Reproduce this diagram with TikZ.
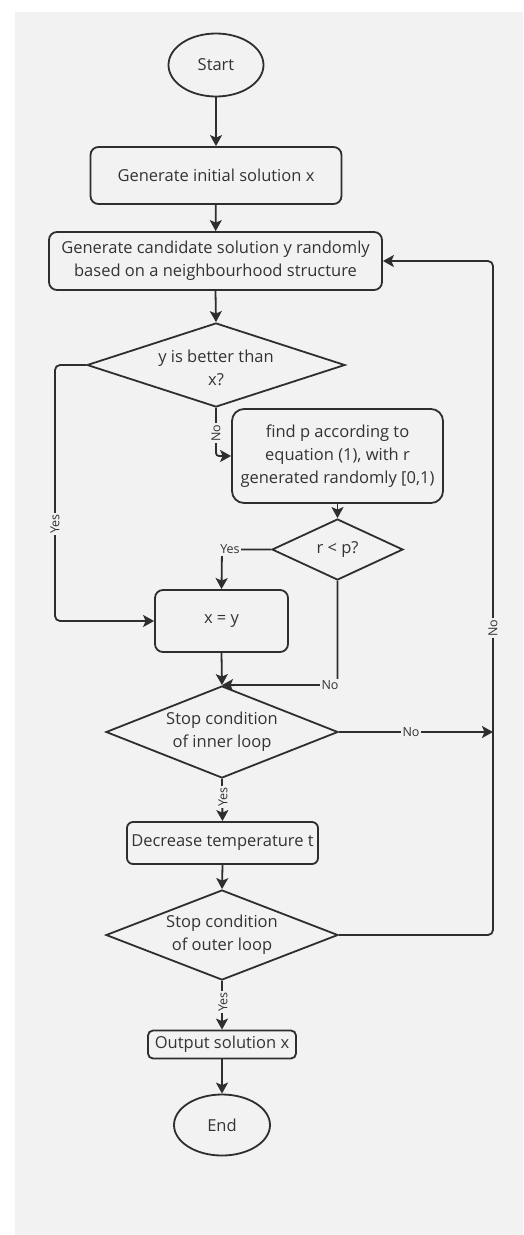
\documentclass[tikz,border=0pt]{standalone}
\usepackage{fontspec}
\setmainfont{Open Sans}
\usetikzlibrary{shapes.geometric,arrows.meta}
\definecolor{bg}{HTML}{F2F2F2}
\definecolor{ink}{HTML}{2E2E2E}
\definecolor{txt}{HTML}{333333}
\tikzset{
  base/.style={draw=ink, line width=1.8pt, text=txt, align=center, inner sep=0pt,
    font=\fontsize{16.5}{23}\selectfont},
  proc/.style={base, rectangle, rounded corners=8pt},
  term/.style={base, ellipse},
  dec/.style={base, diamond},
  dtext/.style={text=txt, align=center, font=\fontsize{16.5}{23}\selectfont},
  flow/.style={draw=ink, line width=1.8pt, -{Stealth[length=11pt,width=12pt,inset=2.5pt]}},
  lbl/.style={text=txt, fill=bg, inner sep=1.5pt, font=\fontsize{12.5}{14}\selectfont},
}
\begin{document}
\begin{tikzpicture}[x=1pt,y=-1pt]
\useasboundingbox (0,0) rectangle (523,1235);
\fill[bg] (15,12) rectangle (523,1235);

\node[term, minimum width=95pt, minimum height=63pt] (start) at (216,65) {Start};
\node[proc, minimum width=251pt, minimum height=57pt] (init) at (216,175.5) {Generate initial solution x};
\node[proc, minimum width=333pt, minimum height=58pt] (cand) at (215.5,261) {Generate candidate solution y randomly\\based on a neighbourhood structure};
\node[dec, minimum width=258pt, minimum height=84pt] (d1) at (216,365) {};
\node[dtext] (d1t) at (216,368) {y is better than\\x?};
\node[proc, minimum width=211pt, minimum height=94pt, rounded corners=12pt] (findp) at (337.5,456) {find p according to\\equation (1), with r\\generated randomly [0,1)};
\node[dec, minimum width=131pt, minimum height=61pt] (d2) at (337.5,549.5) {r < p?};
\node[proc, minimum width=133pt, minimum height=62pt] (xy) at (221.5,621) {x = y};
\node[dec, minimum width=232pt, minimum height=92pt] (d3) at (222,732) {};
\node[dtext] (d3t) at (222,732) {Stop condition\\of inner loop};
\node[proc, minimum width=191pt, minimum height=42pt, rounded corners=6pt] (dec) at (222.5,843) {Decrease temperature t};
\node[dec, minimum width=232pt, minimum height=90pt] (d4) at (222,935) {};
\node[dtext] (d4t) at (222,935) {Stop condition\\of outer loop};
\node[proc, minimum width=148pt, minimum height=28pt, rounded corners=5pt] (out) at (222,1044.5) {Output solution x};
\node[term, minimum width=96pt, minimum height=61pt] (end) at (222,1125) {End};

\coordinate (rr) at (493,732);

% main flow
\draw[flow] (start) -- (init);
\draw[flow] (init) -- (cand);
\draw[flow] (cand.south) -- (d1.north);
\draw[flow] (findp.south) -- (d2.north);
\draw[flow] (xy.south) -- (d3.north);
\draw[flow] (dec.south) -- (d4.north);
\draw[flow] (out.south) -- (end.north);

% d1 yes
\draw[flow, rounded corners=5pt] (d1.west) -- (55,365) -- (55,621) -- (xy.west);
\node[lbl, rotate=90] (y1) at (55,524) {Yes};
% d1 no
\draw[flow, rounded corners=3pt] (d1.south) -- (216,456) -- (findp.west);
\node[lbl, rotate=90] (n1) at (216,433) {No};
% d2 yes
\draw[flow] (d2.west) -- (222,549.5) -- (xy.north);
\node[lbl] (y2) at (230,549.5) {Yes};
% d2 no
\draw[flow] (d2.south) -- (337.5,685) -- (d3.north);
\node[lbl] (n2) at (330,685) {No};
% d3 no
\draw[flow] (d3.east) -- (rr);
\node[lbl] (n3) at (411,732) {No};
% d3 yes
\draw[flow] (d3.south) -- (dec.north);
\node[lbl, rotate=90] (y3) at (223,797) {Yes};
% d4 no
\draw[flow, rounded corners=5pt] (d4.east) -- (493,935) -- (493,261) -- (cand.east);
\node[lbl, rotate=90] (n4) at (493,628) {No};
% d4 yes
\draw[flow] (d4.south) -- (out.north);
\node[lbl, rotate=90] (y4) at (223,1002) {Yes};
\end{tikzpicture}
\end{document}
